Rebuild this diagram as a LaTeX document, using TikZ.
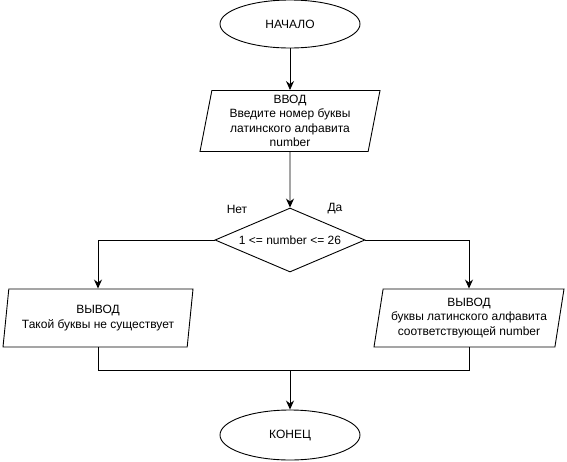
\documentclass[tikz,border=0pt]{standalone}
\usepackage{fontspec}
\setmainfont{Liberation Sans}
\usetikzlibrary{arrows.meta, positioning, shapes.geometric}

\begin{document}
\begin{tikzpicture}[x=1pt, y=-1pt, line width=0.9pt,
    font=\fontsize{12}{14.3}\selectfont,
    terminal/.style={draw, ellipse, minimum width=140pt, minimum height=48pt, inner sep=0pt},
    iobox/.style={draw, trapezium, trapezium left angle=77, trapezium right angle=103,
        trapezium stretches body, minimum height=58pt, inner sep=0pt, align=center},
    decision/.style={draw, diamond, aspect=2.34, minimum width=150pt, minimum height=64pt, inner sep=0pt},
    arr/.style={-{Stealth[length=9pt, width=8pt, inset=3pt]}}]
    \useasboundingbox (0,0) rectangle (567,461);

    % Узлы блок-схемы
    \node (start) [terminal] at (290,24) {НАЧАЛО};
    \node (input) [iobox, minimum width=180pt, minimum height=61pt] at (290,121) {ВВОД\\Введите номер буквы\\латинского алфавита\\number};
    \node (check) [decision] at (290,240) {1 <= number <= 26};
    \node (nope) [iobox, minimum width=190pt] at (98,318) {ВЫВОД\\Такой буквы не существует};
    \node (yes) [iobox, minimum width=190pt] at (469,318) {ВЫВОД\\буквы латинского алфавита\\соответствующей number};
    \node (stop) [terminal, minimum height=50pt] at (290,435) {КОНЕЦ};
    \coordinate (join) at (290,370);

    % Подписи ветвей
    \node (nolabel) at (237,209) {Нет};
    \node (yeslabel) at (335,209) {Да};

    % Соединения
    \draw[arr] (start) -- (input);
    \draw[arr] (input.south) -- (check.north);
    \draw[arr] (check.west) -| (nope);
    \draw[arr] (check.east) -| (yes);
    \draw (nope.south) |- (join);
    \draw (yes.south) |- (join);
    \draw[arr] (join) -- (stop);
\end{tikzpicture}
\end{document}
